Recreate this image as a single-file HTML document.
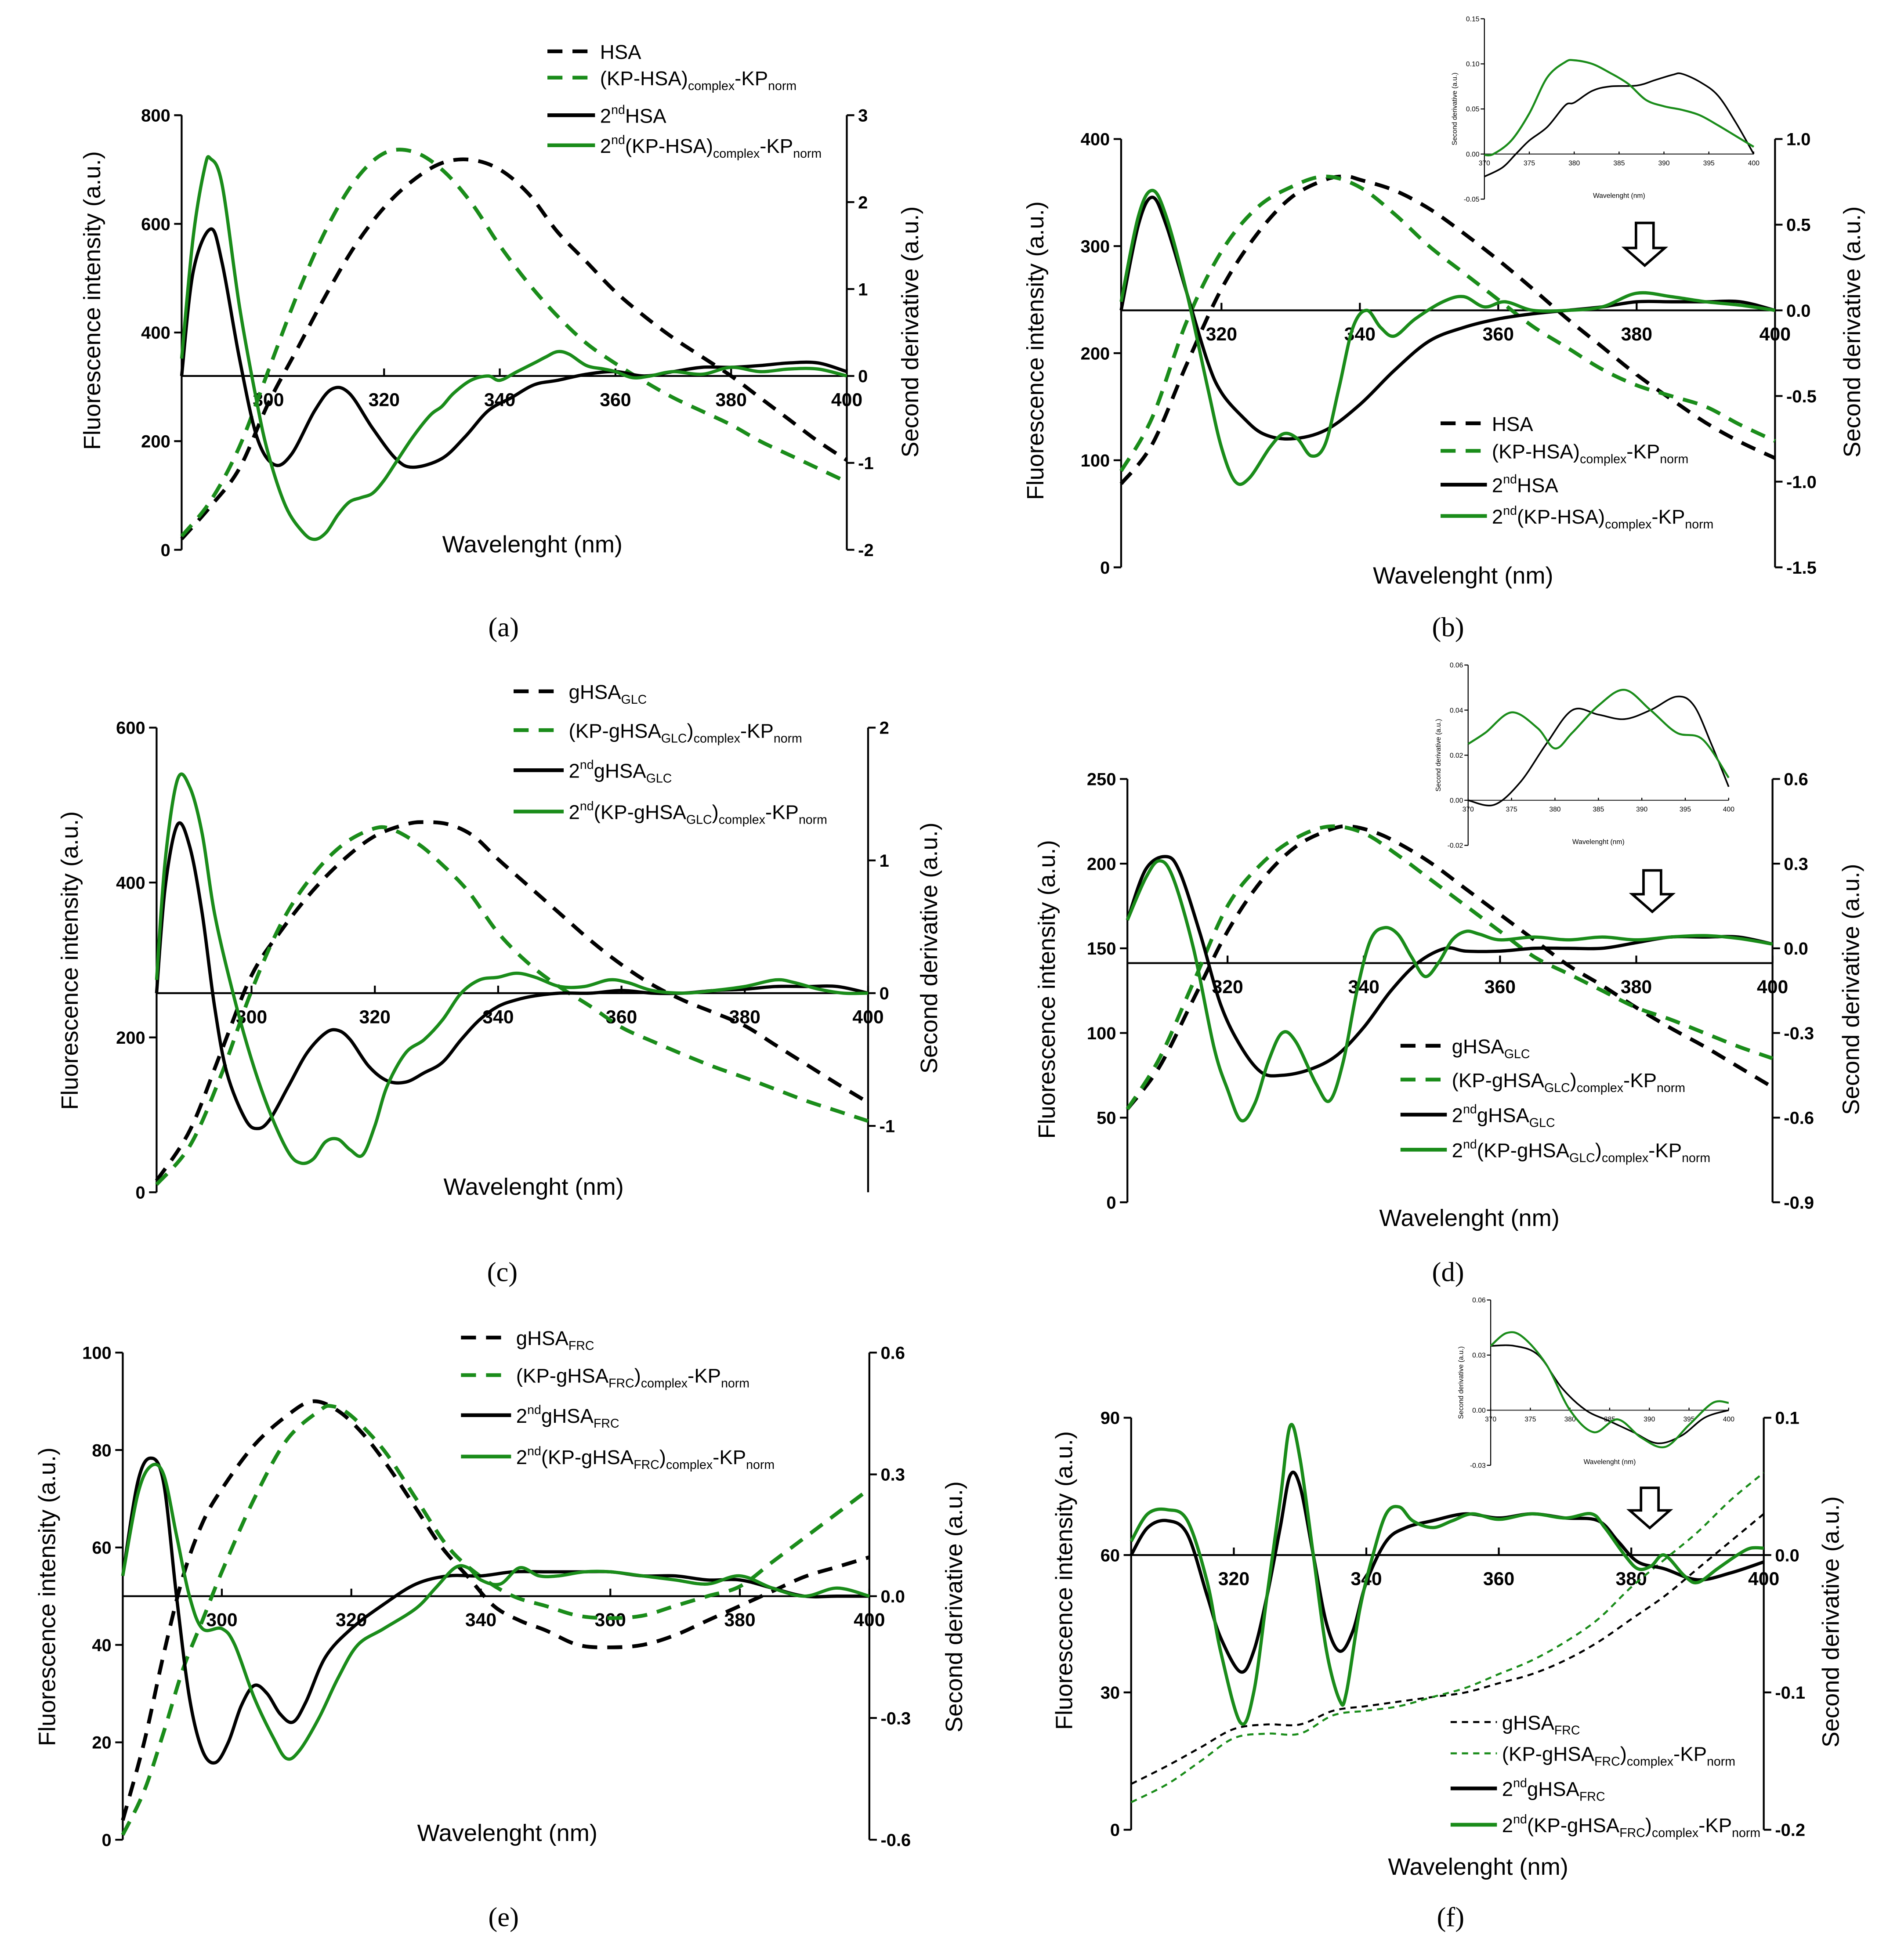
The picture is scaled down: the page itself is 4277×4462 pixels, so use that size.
<!DOCTYPE html>
<html><head><meta charset="utf-8"><style>
html,body{margin:0;padding:0;background:#fff;}
svg{display:block;font-family:"Liberation Sans",sans-serif;}
</style></head><body>
<svg id="fig" xmlns="http://www.w3.org/2000/svg" width="4277" height="4462" viewBox="0 0 1500 1565" preserveAspectRatio="none"></svg>
<script>
// ---------- DATA ----------
// Panel a
const aHsaX=[285,290,295,300,305,310,315,320,325,330,335,340,345,350,355,360,365,370,375,380,385,390,395,400];
const aHsaY=[20,80,150,270,370,470,560,630,680,712,718,700,655,585,530,475,430,390,355,320,280,240,200,165];
const aKpX=[285,290,295,300,305,310,315,320,325,330,335,340,345,350,355,360,365,370,375,380,385,390,395,400];
const aKpY=[25,90,190,330,470,590,680,730,733,700,640,560,490,430,380,343,310,280,255,230,200,175,150,125];
const aD2HsaX=[285,287,290,292,295,298,301,304,308,311,314,318,322,325,330,334,338,342,346,350,355,360,365,370,375,380,385,390,395,400];
const aD2HsaY=[0,1.2,1.69,1.3,0.2,-0.7,-1.02,-0.9,-0.4,-0.15,-0.2,-0.6,-0.95,-1.05,-0.95,-0.7,-0.4,-0.25,-0.1,-0.05,0.02,0.05,0.0,0.05,0.1,0.1,0.12,0.15,0.15,0.05];
const aD2KpX=[285,287,289,290,292,295,298,300,303,306,308,310,312,314,316,318,320,322,325,328,330,332,335,338,340,343,346,348,350,352,355,358,360,363,366,370,375,380,385,390,395,400];
const aD2KpY=[0.2,1.6,2.4,2.5,2.2,0.8,-0.3,-0.9,-1.5,-1.8,-1.88,-1.8,-1.6,-1.45,-1.4,-1.35,-1.2,-1.0,-0.7,-0.45,-0.35,-0.2,-0.05,0.0,-0.05,0.05,0.15,0.22,0.28,0.25,0.12,0.08,0.05,-0.02,0.0,0.05,0.02,0.1,0.05,0.08,0.08,0.0];
// Panel b
const bHsaX=[305.5,310,315,320,325,330,335,338,340,345,350,355,360,365,370,375,380,385,390,395,400];
const bHsaY=[78,115,190,260,310,345,362,365,362,352,335,312,287,260,232,206,180,157,135,117,102];
const bKpX=[305.5,310,315,320,325,330,335,340,345,350,355,360,365,370,375,380,385,390,395,400];
const bKpY=[90,140,230,295,335,355,365,355,330,300,275,250,225,205,185,170,160,150,133,118];
const bD2HsaX=[305.5,308,310,312,315,318,320,323,326,330,335,340,345,350,355,360,365,370,375,380,385,390,395,400];
const bD2HsaY=[0.0,0.5,0.66,0.5,0.1,-0.3,-0.48,-0.62,-0.72,-0.75,-0.7,-0.55,-0.35,-0.18,-0.1,-0.05,-0.02,0.0,0.02,0.05,0.05,0.05,0.05,0.0];
const bD2KpX=[305.5,308,310,312,315,318,320,322,324,327,329,331,333,335,337,339,341,343,345,348,352,355,358,361,365,370,375,380,385,390,395,400];
const bD2KpY=[0.05,0.55,0.7,0.55,0.1,-0.45,-0.8,-1.0,-0.98,-0.8,-0.72,-0.75,-0.85,-0.78,-0.45,-0.1,0.0,-0.1,-0.15,-0.05,0.05,0.08,0.02,0.05,0.0,0.0,0.02,0.1,0.08,0.05,0.03,0.0];
const bInHsaX=[370,372,373.5,375,377,379,380,382,384,387,389,391,392,394,396,398,400];
const bInHsaY=[-0.025,-0.015,0.0,0.015,0.03,0.054,0.057,0.07,0.075,0.076,0.082,0.088,0.089,0.08,0.065,0.035,0.0];
const bInKpX=[370,371,373,375,377,379,380,382,384,386,388,390,392,394,396,398,400];
const bInKpY=[-0.001,0.0,0.015,0.045,0.085,0.102,0.104,0.1,0.09,0.078,0.06,0.053,0.049,0.043,0.032,0.02,0.008];
// Panel c
const cHsaX=[284.6,290,295,300,305,310,315,320,325,328,332,336,340,345,350,355,360,365,370,375,380,385,390,395,400];
const cHsaY=[15,80,180,280,340,390,430,460,475,478,475,460,430,395,360,325,294,268,248,232,215,190,165,140,116];
const cKpX=[284.6,290,295,300,305,310,315,320,323,327,330,335,340,345,350,355,360,365,370,375,380,385,390,395,400];
const cKpY=[10,60,150,260,350,410,450,470,468,450,430,390,335,295,265,240,213,195,178,162,148,133,118,105,92];
const cD2HsaX=[284.6,286,288,290,292,294,296,299,301,303,306,309,312,314,316,319,322,325,328,331,334,337,340,343,346,350,355,360,365,370,375,380,385,390,395,400];
const cD2HsaY=[0,0.8,1.27,1.1,0.6,-0.1,-0.6,-0.95,-1.02,-0.95,-0.7,-0.45,-0.3,-0.28,-0.35,-0.55,-0.66,-0.67,-0.6,-0.52,-0.35,-0.2,-0.1,-0.05,-0.02,0.0,0.0,0.02,0.0,0.0,0.02,0.03,0.05,0.05,0.05,0.0];
const cD2KpX=[284.6,286,288,290,292,294,297,300,303,306,308,310,312,314,316,318,320,322,325,328,331,334,337,340,343,346,350,354,358,361,365,370,375,380,385,388,392,396,400];
const cD2KpY=[0.1,1.0,1.61,1.55,1.2,0.6,0.0,-0.5,-0.9,-1.2,-1.28,-1.25,-1.12,-1.1,-1.18,-1.22,-1.0,-0.7,-0.45,-0.35,-0.2,0.0,0.1,0.12,0.15,0.12,0.05,0.05,0.1,0.08,0.02,0.0,0.02,0.05,0.1,0.08,0.03,0.0,0.0];
// Panel d
const dHsaX=[305.3,310,315,320,325,330,335,338,342,346,350,355,360,365,370,375,380,385,390,395,400];
const dHsaY=[55,80,120,160,190,210,220,222,218,210,200,185,170,155,140,128,115,103,92,80,68];
const dKpX=[305.3,310,315,320,325,330,335,340,345,350,355,360,365,370,375,380,385,390,395,400];
const dKpY=[55,85,130,175,200,215,222,218,205,190,175,160,145,135,125,115,108,100,92,85];
const dD2HsaX=[305.3,308,311,313,316,319,322,325,328,332,336,340,344,348,352,355,360,365,370,375,380,385,390,395,400];
const dD2HsaY=[0.1,0.28,0.325,0.27,0.05,-0.2,-0.35,-0.44,-0.45,-0.43,-0.38,-0.28,-0.15,-0.05,0.0,-0.01,-0.01,0.0,0.0,0.0,0.02,0.04,0.04,0.04,0.015];
const dD2KpX=[305.3,308,310,312,315,318,320,322,324,326,328,330,333,335,337,339,341,343,345,347,349,351,353,355,357,360,365,370,375,380,385,390,395,400];
const dD2KpY=[0.1,0.25,0.31,0.25,0.0,-0.35,-0.5,-0.61,-0.55,-0.4,-0.3,-0.33,-0.48,-0.54,-0.4,-0.15,0.03,0.073,0.05,-0.03,-0.1,-0.05,0.03,0.06,0.05,0.03,0.04,0.03,0.04,0.03,0.04,0.045,0.035,0.015];
const dInHsaX=[370,373,376,379,382,385,388,391,394,396,398,400];
const dInHsaY=[0.0,-0.002,0.008,0.025,0.04,0.038,0.036,0.04,0.046,0.042,0.025,0.006];
const dInKpX=[370,372,375,378,380,382,385,388,391,394,397,400];
const dInKpY=[0.025,0.03,0.039,0.032,0.023,0.03,0.042,0.049,0.04,0.03,0.027,0.01];
// Panel e
const eHsaX=[284.7,288,291,294,297,300,305,310,314,318,322,326,330,334,338,342,346,350,355,360,365,370,375,380,385,390,395,400];
const eHsaY=[4,20,38,54,65,72,81,87,90,88,83,76,68,60,54,48,45,43,40,39.5,40,42,45,48,51,54,56,58];
const eKpX=[284.7,288,291,294,297,300,305,310,315,317,320,325,330,335,340,345,350,355,360,365,370,375,380,385,390,395,400];
const eKpY=[1,10,22,35,45,55,70,82,88,89,87,80,70,60,54,50,48,46,45.5,46,48,50,52,57,62,67,72];
const eD2HsaX=[284.7,287,289,291,293,295,297,299,301,303,305,307,309,311,313,316,320,325,330,335,340,345,350,355,360,365,370,375,380,385,390,395,400];
const eD2HsaY=[0.05,0.28,0.34,0.28,0.0,-0.25,-0.38,-0.41,-0.36,-0.27,-0.22,-0.24,-0.29,-0.31,-0.26,-0.15,-0.08,-0.02,0.03,0.05,0.05,0.06,0.06,0.06,0.06,0.05,0.05,0.04,0.04,0.02,0.0,0.0,0.0];
const eD2KpX=[284.7,287,289,291,293,295,297,300,302,305,308,310,312,315,318,321,325,330,333,336,338,340,343,346,349,352,356,360,365,370,375,380,385,390,395,400];
const eD2KpY=[0.05,0.25,0.32,0.3,0.15,0.0,-0.08,-0.08,-0.12,-0.25,-0.35,-0.4,-0.38,-0.3,-0.2,-0.12,-0.08,-0.03,0.02,0.07,0.07,0.04,0.03,0.07,0.05,0.05,0.06,0.06,0.05,0.04,0.03,0.05,0.02,0.0,0.02,0.0];
// Panel f
const fHsaX=[304.5,310,315,320,325,330,335,340,345,350,355,360,365,370,375,380,385,390,395,400];
const fHsaY=[10,14,18,22,23,23,26,27,28,29,30,32,34,37,41,46,51,57,63,69];
const fKpX=[304.5,310,315,320,325,330,335,340,345,350,355,360,365,370,375,380,385,390,395,400];
const fKpY=[6,10,15,20,21,21,25,26,27,29,31,34,37,41,46,53,59,65,72,78];
const fD2HsaX=[304.5,307,310,313,316,318,321,323,325,327,328.5,330,332,334,336,338,340,343,346,350,355,360,365,370,375,378,381,385,390,395,400];
const fD2HsaY=[0.0,0.02,0.025,0.015,-0.03,-0.06,-0.085,-0.07,-0.03,0.02,0.058,0.05,0.0,-0.05,-0.07,-0.055,-0.02,0.01,0.02,0.025,0.03,0.027,0.03,0.027,0.025,0.01,-0.005,-0.01,-0.018,-0.013,-0.005];
const fD2KpX=[304.5,307,310,313,316,318,321,323,325,327,328.5,330,332,334,336,337,339,341,343,345,347,350,353,356,360,365,370,374,376,379,381,383,385,388,390,393,396,398,400];
const fD2KpY=[0.01,0.03,0.033,0.025,-0.02,-0.07,-0.122,-0.1,-0.03,0.04,0.094,0.07,0.0,-0.07,-0.106,-0.1,-0.04,0.0,0.03,0.035,0.025,0.02,0.025,0.03,0.026,0.03,0.027,0.03,0.02,0.0,-0.01,-0.008,0.0,-0.015,-0.02,-0.01,0.0,0.005,0.005];
const fInHsaX=[370,373,376,379,382,385,388,391,394,397,400];
const fInHsaY=[0.035,0.035,0.03,0.012,0.0,-0.006,-0.012,-0.018,-0.014,-0.004,0.0];
const fInKpX=[370,372,374,377,380,383,386,389,392,395,398,400];
const fInKpY=[0.035,0.042,0.04,0.025,0.0,-0.012,-0.005,-0.015,-0.02,-0.008,0.004,0.004];

const aLeftTicks=[0,200,400,600,800], aRightTicks=[-2,-1,0,1,2,3], aXTicks=[300,320,340,360,380,400];
const bLeftTicks=[0,100,200,300,400], bRightTicks=[-1.5,-1.0,-0.5,0.0,0.5,1.0], bXTicks=[320,340,360,380,400];
const cLeftTicks=[0,200,400,600], cRightTicks=[-1,0,1,2], cXTicks=[300,320,340,360,380,400];
const dLeftTicks=[0,50,100,150,200,250], dRightTicks=[-0.9,-0.6,-0.3,0.0,0.3,0.6], dXTicks=[320,340,360,380,400];
const eLeftTicks=[0,20,40,60,80,100], eRightTicks=[-0.6,-0.3,0.0,0.3,0.6], eXTicks=[300,320,340,360,380,400];
const fLeftTicks=[0,30,60,90], fRightTicks=[-0.2,-0.1,0.0,0.1], fXTicks=[320,340,360,380,400];
const inXTicks=[370,375,380,385,390,395,400];
const bInYTicks=[-0.05,0.00,0.05,0.10,0.15], dInYTicks=[-0.02,0.00,0.02,0.04,0.06], fInYTicks=[-0.03,0.00,0.03,0.06];

// ---------- DRAWING ----------
const svg=document.getElementById('fig');
const NS='http://www.w3.org/2000/svg';
const GREEN='#1a8c1a';
function mk(tag,attrs,parent){const e=document.createElementNS(NS,tag);for(const k in attrs)e.setAttribute(k,attrs[k]);(parent||svg).appendChild(e);return e;}
function smooth(pts){let d='M'+pts[0][0].toFixed(2)+','+pts[0][1].toFixed(2);
 for(let i=0;i<pts.length-1;i++){const p0=pts[Math.max(0,i-1)],p1=pts[i],p2=pts[i+1],p3=pts[Math.min(pts.length-1,i+2)];
  const c1=[p1[0]+(p2[0]-p0[0])/6,p1[1]+(p2[1]-p0[1])/6],c2=[p2[0]-(p3[0]-p1[0])/6,p2[1]-(p3[1]-p1[1])/6];
  d+='C'+c1[0].toFixed(2)+','+c1[1].toFixed(2)+' '+c2[0].toFixed(2)+','+c2[1].toFixed(2)+' '+p2[0].toFixed(2)+','+p2[1].toFixed(2);}
 return d;}
function lin(d0,d1,r0,r1){return v=>r0+(v-d0)*(r1-r0)/(d1-d0);}
function fmt(v,dec){return v.toFixed(dec);}

function txt(g,x,y,s,opt){const t=mk('text',Object.assign({x:x,y:y,'font-size':opt.size||15,'text-anchor':opt.anchor||'middle','fill':'#000'},opt.weight?{'font-weight':opt.weight}:{},opt.rot?{transform:'rotate(-90 '+x+' '+y+')'}:{}),g);t.textContent=s;return t;}

function series(g,X,Y,sx,sy,color,dash,width,name){
 const pts=X.map((x,i)=>[sx(x),sy(Y[i])]);
 const p=mk('path',{d:smooth(pts),fill:'none',stroke:color,'stroke-width':width,'stroke-dasharray':dash||'none','stroke-linejoin':'round'},g);
 
 
}

function legendEntry(g,x1,x2,y,color,dash,w,parts,name){
 const gg=mk('g',{},g);
 
 
 mk('line',{x1:x1,x2:x2,y1:y,y2:y,stroke:color,'stroke-width':w,'stroke-dasharray':dash||'none'},gg);
 const t=mk('text',{x:x2+4,y:y+6,'font-size':16,fill:'#000'},gg);
 parts.forEach(p=>{const s=mk('tspan',{},t);s.textContent=p[0];
  if(p[1]==='sub'){s.setAttribute('font-size',10);s.setAttribute('baseline-shift','-4');}
  else if(p[1]==='sup'){s.setAttribute('font-size',10);s.setAttribute('baseline-shift','7');}
 });
}

function panel(P){
 const g=mk('g',{});
 
 
 const sx=lin(P.xmin,400,P.x0,P.x1), sy=lin(P.lmin,P.lmax,P.yb,P.yt), sr=lin(P.rmin,P.rmax,P.yb,P.yt);
 const la=mk('line',{x1:P.x0,x2:P.x0,y1:P.yt,y2:P.yb,stroke:'#000','stroke-width':1.5},g);
 
 const ra=mk('line',{x1:P.x1,x2:P.x1,y1:P.yt,y2:P.yb,stroke:'#000','stroke-width':1.5},g);
 
 const zy=P.zeroLine!==undefined?P.zeroLine:sr(0);
 const za=mk('line',{x1:P.x0,x2:P.x1,y1:zy,y2:zy,stroke:'#000','stroke-width':1.5},g);
 
 P.lt.forEach(v=>{const y=sy(v);mk('line',{x1:P.x0-6,x2:P.x0,y1:y,y2:y,stroke:'#000','stroke-width':1.5},g);
  const t=txt(g,P.x0-9,y+5,String(v),{anchor:'end',weight:'bold',size:14});});
 P.rt.forEach(v=>{const y=sr(v);mk('line',{x1:P.x1,x2:P.x1+6,y1:y,y2:y,stroke:'#000','stroke-width':1.5},g);
  const t=txt(g,P.x1+9,y+5,fmt(v,P.rdec),{anchor:'start',weight:'bold',size:14});});
 P.xt.forEach(v=>{const x=sx(v);mk('line',{x1:x,x2:x,y1:zy,y2:zy-6,stroke:'#000','stroke-width':1.5},g);
  const t=txt(g,x,zy+24,String(v),{weight:'bold',size:15});});
 let t=txt(g,P.ltx[0],P.ltx[1],'Fluorescence intensity (a.u.)',{size:19,rot:true});
 t=txt(g,P.rtx[0],P.rtx[1],'Second derivative (a.u.)',{size:19,rot:true});
 t=txt(g,P.xtx[0],P.xtx[1],'Wavelenght (nm)',{size:19});
 t=txt(g,P.lab[0],P.lab[1],'('+P.id+')',{size:22,weight:'normal'});
 t.setAttribute('font-family','"Liberation Serif",serif');
 const dw=P.thinDash?1.6:3, dd=P.thinDash?'5,4':'12,8';
 series(g,P.s[0][0],P.s[0][1],sx,sy,'#000',dd,dw,'fluorescence-native-dashed');
 series(g,P.s[1][0],P.s[1][1],sx,sy,GREEN,dd,dw,'fluorescence-complex-dashed');
 series(g,P.s[2][0],P.s[2][1],sx,sr,'#000',null,2.6,'second-derivative-native');
 series(g,P.s[3][0],P.s[3][1],sx,sr,GREEN,null,2.6,'second-derivative-complex');
 const L=P.leg;
 L.entries.forEach((e,i)=>{
  const dash=i<2?(P.thinDash?'5,4':'12,8'):null, w=i<2?(P.thinDash?1.6:3):3;
  legendEntry(g,L.x1,L.x2,L.ys[i],i%2?GREEN:'#000',dash,w,e,'legend-entry-'+(i+1));
 });
 return g;
}

function inset(I){
 const g=mk('g',{});
 
 
 const sx=lin(370,400,I.x0,I.x1), sy=lin(I.ymin,I.ymax,I.yb,I.yt);
 mk('line',{x1:I.x0,x2:I.x0,y1:I.yt,y2:I.yb,stroke:'#000','stroke-width':0.8},g);
 const zy=sy(0);
 mk('line',{x1:I.x0,x2:I.x1,y1:zy,y2:zy,stroke:'#333','stroke-width':0.8},g);
 I.yt_.forEach(v=>{const y=sy(v);mk('line',{x1:I.x0-3,x2:I.x0,y1:y,y2:y,stroke:'#000','stroke-width':0.8},g);
  txt(g,I.x0-4,y+2,v.toFixed(2),{anchor:'end',size:5.5});});
 inXTicks.forEach(v=>{const x=sx(v);mk('line',{x1:x,x2:x,y1:zy,y2:zy-2,stroke:'#000','stroke-width':0.8},g);
  txt(g,x,zy+9,String(v),{size:5.5});});
 txt(g,(I.x0+I.x1)/2,I.yb-1,'Wavelenght (nm)',{size:5.5});
 txt(g,I.x0-22,(I.yt+I.yb)/2,'Second derivative (a.u.)',{size:5.5,rot:true});
 series(g,I.s[0][0],I.s[0][1],sx,sy,'#000',null,1.3,'inset-native');
 series(g,I.s[1][0],I.s[1][1],sx,sy,GREEN,null,1.6,'inset-complex');
}

function arrow(x,y1,y2,name){
 const a=mk('path',{d:`M${x-7},${y1} H${x+7} V${y2-14} H${x+16} L${x},${y2} L${x-16},${y2-14} H${x-7} Z`,fill:'#fff',stroke:'#000','stroke-width':2});
 
 
}

const legHSA=[[['HSA']],[['(KP-HSA)'],['complex','sub'],['-KP'],['norm','sub']],[['2'],['nd','sup'],['HSA']],[['2'],['nd','sup'],['(KP-HSA)'],['complex','sub'],['-KP'],['norm','sub']]];
function legG(s){return [[['gHSA'],[s,'sub']],[['(KP-gHSA'],[s,'sub'],[')'],['complex','sub'],['-KP'],['norm','sub']],[['2'],['nd','sup'],['gHSA'],[s,'sub']],[['2'],['nd','sup'],['(KP-gHSA'],[s,'sub'],[')'],['complex','sub'],['-KP'],['norm','sub']]];}

panel({id:'a',x0:145,x1:676,xmin:285,yt:92,yb:439,lmin:0,lmax:800,rmin:-2,rmax:3,rdec:0,
 lt:aLeftTicks,rt:aRightTicks,xt:aXTicks,ltx:[80,240],rtx:[733,265],xtx:[425,441],lab:[402,508],
 s:[[aHsaX,aHsaY],[aKpX,aKpY],[aD2HsaX,aD2HsaY],[aD2KpX,aD2KpY]],
 leg:{x1:437,x2:475,ys:[41,62,92,116],entries:legHSA}});
panel({id:'b',x0:895,x1:1417,xmin:305.5,yt:111,yb:453,lmin:0,lmax:400,rmin:-1.5,rmax:1.0,rdec:1,
 lt:bLeftTicks,rt:bRightTicks,xt:bXTicks,ltx:[833,280],rtx:[1485,265],xtx:[1168,466],lab:[1156,508],
 s:[[bHsaX,bHsaY],[bKpX,bKpY],[bD2HsaX,bD2HsaY],[bD2KpX,bD2KpY]],
 leg:{x1:1150,x2:1187,ys:[338,360,387,412],entries:legHSA}});
panel({id:'c',x0:125,x1:693,xmin:284.6,yt:581,yb:952,lmin:0,lmax:600,rmin:-1.5,rmax:2,rdec:0,
 lt:cLeftTicks,rt:cRightTicks,xt:cXTicks,ltx:[62,767],rtx:[748,757],xtx:[426,954],lab:[401,1023],
 s:[[cHsaX,cHsaY],[cKpX,cKpY],[cD2HsaX,cD2HsaY],[cD2KpX,cD2KpY]],
 leg:{x1:410,x2:450,ys:[552,583,615,648],entries:legG('GLC')}});
panel({id:'d',x0:900,x1:1415,xmin:305.3,yt:622,yb:960,lmin:0,lmax:250,rmin:-0.9,rmax:0.6,rdec:1,zeroLine:769,
 lt:dLeftTicks,rt:dRightTicks,xt:dXTicks,ltx:[842,790],rtx:[1484,790],xtx:[1173,979],lab:[1156,1023],
 s:[[dHsaX,dHsaY],[dKpX,dKpY],[dD2HsaX,dD2HsaY],[dD2KpX,dD2KpY]],
 leg:{x1:1118,x2:1155,ys:[835,862,890,918],entries:legG('GLC')}});
panel({id:'e',x0:98,x1:694,xmin:284.7,yt:1080,yb:1469,lmin:0,lmax:100,rmin:-0.6,rmax:0.6,rdec:1,
 lt:eLeftTicks,rt:eRightTicks,xt:eXTicks,ltx:[44,1275],rtx:[768,1283],xtx:[405,1470],lab:[402,1538],
 s:[[eHsaX,eHsaY],[eKpX,eKpY],[eD2HsaX,eD2HsaY],[eD2KpX,eD2KpY]],
 leg:{x1:368,x2:408,ys:[1068,1098,1130,1163],entries:legG('FRC')}});
panel({id:'f',x0:903,x1:1408,xmin:304.5,yt:1132,yb:1461,lmin:0,lmax:90,rmin:-0.2,rmax:0.1,rdec:1,thinDash:true,
 lt:fLeftTicks,rt:fRightTicks,xt:fXTicks,ltx:[856,1262],rtx:[1468,1295],xtx:[1180,1497],lab:[1158,1538],
 s:[[fHsaX,fHsaY],[fKpX,fKpY],[fD2HsaX,fD2HsaY],[fD2KpX,fD2KpY]],
 leg:{x1:1158,x2:1195,ys:[1375,1400,1428,1457],entries:legG('FRC')}});

inset({id:'b',x0:1185,x1:1400,yt:15,yb:159,ymin:-0.05,ymax:0.15,yt_:bInYTicks,s:[[bInHsaX,bInHsaY],[bInKpX,bInKpY]]});
inset({id:'d',x0:1172,x1:1380,yt:531,yb:675,ymin:-0.02,ymax:0.06,yt_:dInYTicks,s:[[dInHsaX,dInHsaY],[dInKpX,dInKpY]]});
inset({id:'f',x0:1190,x1:1380,yt:1038,yb:1170,ymin:-0.03,ymax:0.06,yt_:fInYTicks,s:[[fInHsaX,fInHsaY],[fInKpX,fInKpY]]});

arrow(1313,178,212,'arrow-b');
arrow(1319,695,728,'arrow-d');
arrow(1317,1188,1220,'arrow-f');
</script>
</body></html>
